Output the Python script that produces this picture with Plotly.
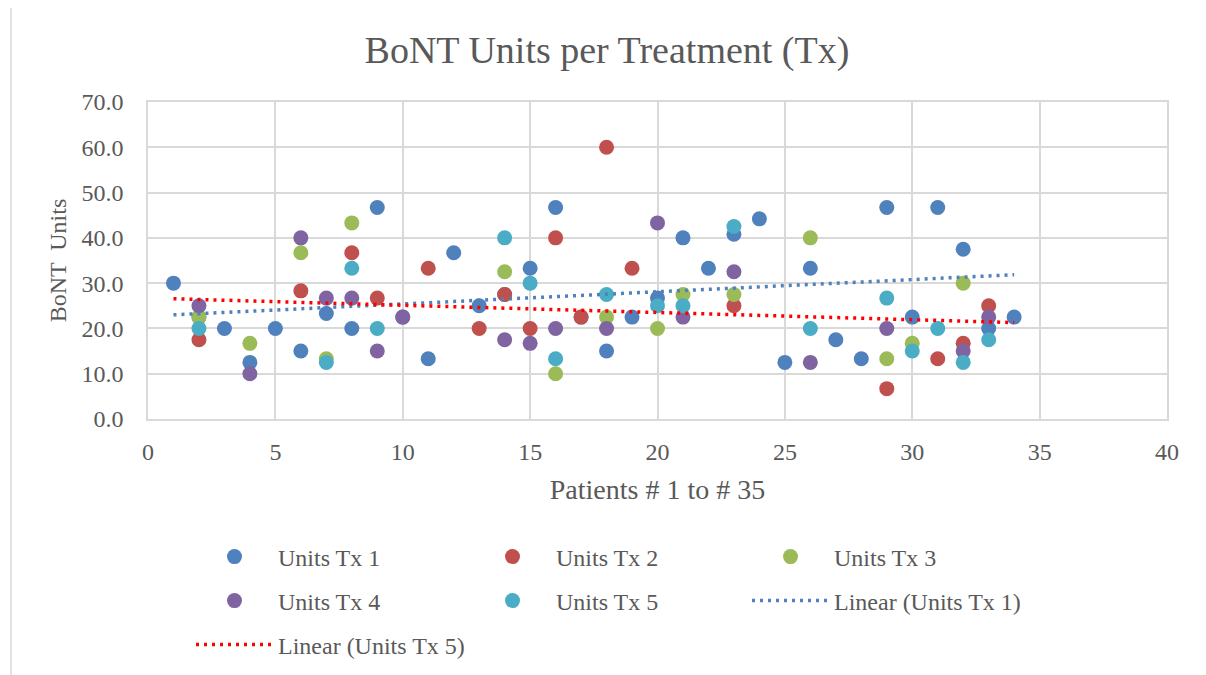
import numpy as np
import plotly.graph_objects as go

# ---- data ----
tx1_x = [1, 2, 3, 4, 5, 6, 7, 8, 9, 10, 11, 12, 13, 14, 15, 16, 17, 18, 19, 20,
         21, 22, 23, 24, 25, 26, 27, 28, 29, 30, 31, 32, 33, 34]
tx1_y = [30.0, 22.5, 20.0, 12.5, 20.0, 15.0, 23.3, 20.0, 46.7, 22.5, 13.3, 36.7, 25.0, 27.5,
         33.3, 46.7, 22.5, 15.0, 22.5, 26.7, 40.0, 33.3, 40.8, 44.2, 12.5, 33.3, 17.5, 13.3,
         46.7, 22.5, 46.7, 37.5, 20.0, 22.5]

tx2_x = [2, 6, 8, 9, 11, 13, 14, 15, 16, 17, 18, 19, 23, 29, 31, 32, 33]
tx2_y = [17.5, 28.3, 36.7, 26.7, 33.3, 20.0, 27.5, 20.0, 40.0, 22.5, 60.0, 33.3, 25.0, 6.7,
         13.3, 16.7, 25.0]

tx3_x = [2, 4, 6, 7, 8, 14, 16, 18, 20, 21, 23, 26, 29, 30, 32]
tx3_y = [22.5, 16.7, 36.7, 13.3, 43.3, 32.5, 10.0, 22.5, 20.0, 27.5, 27.5, 40.0, 13.3, 16.7, 30.0]

tx4_x = [2, 4, 6, 7, 8, 9, 10, 14, 15, 16, 18, 20, 21, 23, 26, 29, 32, 33]
tx4_y = [25.0, 10.0, 40.0, 26.7, 26.7, 15.0, 22.5, 17.5, 16.7, 20.0, 20.0, 43.3, 22.5, 32.5,
         12.5, 20.0, 15.0, 22.5]

tx5_x = [2, 7, 8, 9, 14, 15, 16, 18, 20, 21, 23, 26, 29, 30, 31, 32, 33]
tx5_y = [20.0, 12.5, 33.3, 20.0, 40.0, 30.0, 13.3, 27.5, 25.0, 25.0, 42.5, 20.0, 26.7, 15.0,
         20.0, 12.5, 17.5]

series_names = ["Units Tx 1", "Units Tx 2", "Units Tx 3", "Units Tx 4", "Units Tx 5"]
colors = ["#4F81BD", "#C0504D", "#9BBB59", "#8064A2", "#4BACC6"]
trend_colors = ["#4F81BD", "#FF0000"]

FONT = "Liberation Serif"
GREY = "#595959"

fig = go.Figure()
all_x = [tx1_x, tx2_x, tx3_x, tx4_x, tx5_x]
all_y = [tx1_y, tx2_y, tx3_y, tx4_y, tx5_y]
legend_ids = ["legend", "legend", "legend", "legend2", "legend2"]
for xs, ys, name, c, lg in zip(all_x, all_y, series_names, colors, legend_ids):
    fig.add_trace(go.Scatter(x=xs, y=ys, mode="markers", name=name, legend=lg,
                             marker=dict(size=15, color=c, line=dict(width=0))))

# linear trendlines (least squares from the data), spanning the patient range
span = np.array([min(tx1_x), max(tx1_x)], dtype=float)
for xs, ys, name, c, lg in [(tx1_x, tx1_y, "Linear (Units Tx 1)", trend_colors[0], "legend2"),
                            (tx5_x, tx5_y, "Linear (Units Tx 5)", trend_colors[1], "legend3")]:
    m, b = np.polyfit(xs, ys, 1)
    fig.add_trace(go.Scatter(x=span, y=m * span + b, mode="lines", name=name, legend=lg,
                             line=dict(color=c, width=3.5, dash="3px,5px")))

# the page adds an 8px body margin; work in page pixels and convert
OFF = 8
W, H = 1206 - OFF, 675 - OFF
PL, PR, PT, PB = 148, 1167, 102, 419          # plot area in page pixels
L, T = PL - OFF, PT - OFF
R, B = W - (PR - OFF), H - (PB - OFF)
pw, ph = PR - PL, PB - PT

def px_x(p):
    return (p - PL) / pw

def px_y(p):
    return (PB - p) / ph

legend_common = dict(orientation="h", entrywidth=186, entrywidthmode="pixels",
                     font=dict(family=FONT, size=24, color=GREY), bgcolor="rgba(0,0,0,0)",
                     xanchor="left", yanchor="middle", itemwidth=77, traceorder="normal")

fig.update_layout(
    width=W, height=H,
    margin=dict(l=L, r=R, t=T, b=B, autoexpand=False),
    paper_bgcolor="white", plot_bgcolor="white",
    title=dict(text="BoNT Units per Treatment (Tx)", x=0.5, xanchor="center",
               y=1 - (50 - OFF) / H, yanchor="middle", font=dict(family=FONT, size=38, color=GREY)),
    legend=dict(x=px_x(191), y=px_y(557), **legend_common),
    legend2=dict(x=px_x(191), y=px_y(601), **legend_common),
    legend3=dict(x=px_x(191), y=px_y(645), **legend_common),
    xaxis=dict(range=[0, 40], dtick=5, tick0=0, showgrid=True, gridcolor="#D9D9D9", gridwidth=1.5,
               zeroline=False, showline=True, linecolor="#D9D9D9", linewidth=1.5, mirror=True,
               ticks="", ticklabelstandoff=10,
               tickfont=dict(family=FONT, size=24, color=GREY),
               title=dict(text="Patients # 1 to # 35", standoff=16,
                          font=dict(family=FONT, size=28, color=GREY))),
    yaxis=dict(range=[0, 70], dtick=10, tick0=0, tickformat=".1f", showgrid=True,
               gridcolor="#D9D9D9", gridwidth=1.5, zeroline=False, showline=True,
               linecolor="#D9D9D9", linewidth=1.5, mirror=True, ticks="", ticklabelstandoff=18,
               tickfont=dict(family=FONT, size=24, color=GREY),
               title=dict(text="BoNT  Units", standoff=8,
                          font=dict(family=FONT, size=24, color=GREY))),
    shapes=[dict(type="rect", xref="paper", yref="paper",
                 x0=px_x(11), x1=px_x(1212), y0=px_y(690), y1=px_y(4),
                 line=dict(color="#D9D9D9", width=1.5), fillcolor="rgba(0,0,0,0)", layer="below")],
    showlegend=True,
)

fig.write_html("out.html")
